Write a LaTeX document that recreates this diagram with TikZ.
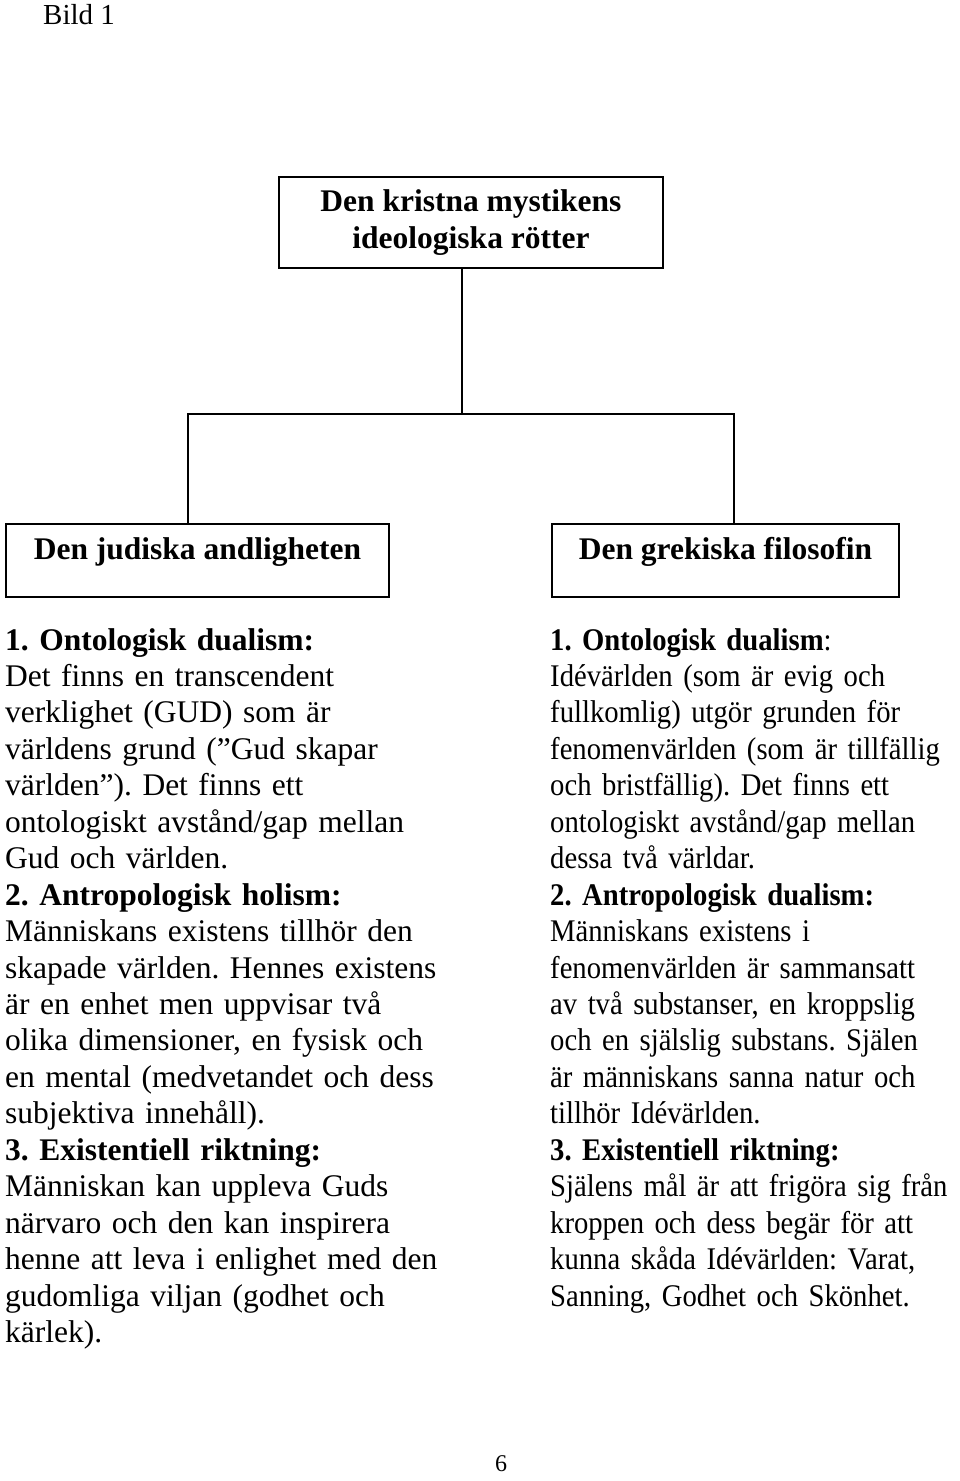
\documentclass[tikz,border=0pt]{standalone}
\usepackage{fontspec}
\setmainfont{Liberation Serif}
\newfontfamily\smalserif[FakeStretch=0.91]{Liberation Serif}
\frenchspacing
\tikzset{
	box/.style={draw,rectangle,align=center,line width=2pt,inner sep=0pt,font=\bfseries\fontsize{31.5}{36.45}\selectfont},
	col/.style={anchor=base west,align=left,inner sep=0pt,text width=440pt,font=\fontsize{31.5}{36.45}\selectfont},
	link/.style={line width=2pt}
}
\begin{document}
\begin{tikzpicture}[x=1pt,y=-1pt]
			\useasboundingbox (0,0) rectangle (960,1481);
			\node[anchor=base west,inner sep=0pt,font=\fontsize{29}{34}\selectfont] (bild) at (43,24) {Bild 1};
			\node[box,minimum width=384pt,minimum height=91pt] (rot) at (471,222.5) {Den kristna mystikens\\ideologiska rötter};
			\node[box,minimum width=383pt,minimum height=73pt,text height=21pt,text depth=23pt] (jud) at (197.5,560.5) {Den judiska andligheten};
			\node[box,minimum width=347pt,minimum height=73pt,text height=21pt,text depth=23pt] (grek) at (725.5,560.5) {Den grekiska filosofin};
			\coordinate (fork) at (462,414);
			\coordinate (forkl) at (188,414);
			\coordinate (forkr) at (734,414);
			
			\draw[link] (rot.south -| fork) -- (fork);
			\draw[link] (jud.north -| forkl) -- (forkl) -- (forkr) -- (grek.north -| forkr);
			
			\node[col] (judtext) at (5,650) {\textbf{1. Ontologisk dualism:}\\
				Det finns en transcendent\\
				verklighet (GUD) som är\\
				världens grund (”Gud skapar\\
				världen”). Det finns ett\\
				ontologiskt avstånd/gap mellan\\
				Gud och världen.\\
				\textbf{2. Antropologisk holism:}\\
				Människans existens tillhör den\\
				skapade världen. Hennes existens\\
				är en enhet men uppvisar två\\
				olika dimensioner, en fysisk och\\
				en mental (medvetandet och dess\\
				subjektiva innehåll).\\
				\textbf{3. Existentiell riktning:}\\
				Människan kan uppleva Guds\\
				närvaro och den kan inspirera\\
				henne att leva i enlighet med den\\
				gudomliga viljan (godhet och\\
				kärlek).};
			\node[col,font=\smalserif\fontsize{31.5}{36.45}\selectfont] (grektext) at (550,650) {\textbf{1. Ontologisk dualism}:\\
				Idévärlden (som är evig och\\
				fullkomlig) utgör grunden för\\
				fenomenvärlden (som är tillfällig\\
				och bristfällig). Det finns ett\\
				ontologiskt avstånd/gap mellan\\
				dessa två världar.\\
				\textbf{2. Antropologisk dualism:}\\
				Människans existens i\\
				fenomenvärlden är sammansatt\\
				av två substanser, en kroppslig\\
				och en själslig substans. Själen\\
				är människans sanna natur och\\
				tillhör Idévärlden.\\
				\textbf{3. Existentiell riktning:}\\
				Själens mål är att frigöra sig från\\
				kroppen och dess begär för att\\
				kunna skåda Idévärlden: Varat,\\
				Sanning, Godhet och Skönhet.};
			\node[anchor=base,inner sep=0pt,font=\fontsize{24}{28}\selectfont] (sida) at (501,1471) {6};
		\end{tikzpicture}
\end{document}
